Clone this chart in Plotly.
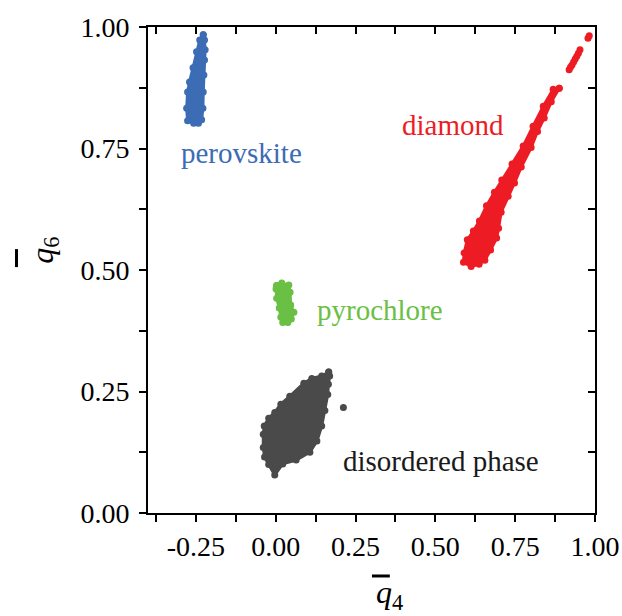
import plotly.graph_objects as go

# ---- data (cluster outlines; q4 = x, q6 = y) ----
perovskite_q4 = [-0.227, -0.223, -0.221, -0.223, -0.225, -0.227, -0.228, -0.232, -0.242,
                 -0.257, -0.276, -0.279, -0.276, -0.270, -0.259, -0.248, -0.238]
perovskite_q6 = [0.984, 0.973, 0.953, 0.932, 0.901, 0.866, 0.833, 0.809, 0.802,
                 0.802, 0.807, 0.833, 0.866, 0.887, 0.916, 0.949, 0.973]

pyrochlore_q4 = [0.003, 0.019, 0.041, 0.045, 0.047, 0.057, 0.049, 0.038, 0.022,
                 0.016, 0.011, 0.003, 0.001]
pyrochlore_q6 = [0.468, 0.473, 0.469, 0.454, 0.428, 0.413, 0.399, 0.392, 0.392,
                 0.403, 0.422, 0.442, 0.461]

disordered_q4 = [0.166, 0.144, 0.113, 0.088, 0.044, 0.016, -0.003, -0.022, -0.036,
                 -0.039, -0.039, -0.035, -0.022, -0.003, 0.022, 0.064, 0.107, 0.129,
                 0.144, 0.154, 0.163, 0.165, 0.169]
disordered_q6 = [0.290, 0.282, 0.277, 0.267, 0.240, 0.224, 0.207, 0.195, 0.179,
                 0.162, 0.135, 0.115, 0.100, 0.078, 0.101, 0.109, 0.125, 0.148,
                 0.179, 0.211, 0.244, 0.265, 0.282]
disordered_out_q4 = [0.212]
disordered_out_q6 = [0.217]

diamond_q4 = [0.888, 0.863, 0.841, 0.820, 0.800, 0.769, 0.748, 0.728, 0.706, 0.698,
              0.692, 0.673, 0.655, 0.637, 0.612, 0.588, 0.590, 0.600, 0.619, 0.638,
              0.660, 0.685, 0.708, 0.740, 0.775, 0.806, 0.838, 0.869]
diamond_q6 = [0.874, 0.846, 0.813, 0.785, 0.752, 0.712, 0.679, 0.652, 0.619, 0.586,
              0.566, 0.541, 0.520, 0.512, 0.507, 0.516, 0.535, 0.562, 0.580, 0.601,
              0.632, 0.660, 0.685, 0.718, 0.755, 0.796, 0.837, 0.872]
diamond_top_q4 = [0.982, 0.978, 0.953, 0.948, 0.943, 0.938, 0.933, 0.928, 0.923, 0.919]
diamond_top_q6 = [0.982, 0.977, 0.953, 0.946, 0.940, 0.934, 0.928, 0.922, 0.917, 0.912]

x_tickvals = [-0.375, -0.25, -0.125, 0.0, 0.125, 0.25, 0.375, 0.5, 0.625, 0.75, 0.875, 1.0]
x_ticktext = ["", "-0.25", "", "0.00", "", "0.25", "", "0.50", "", "0.75", "", "1.00"]
y_tickvals = [0.0, 0.125, 0.25, 0.375, 0.5, 0.625, 0.75, 0.875, 1.0]
y_ticktext = ["0.00", "", "0.25", "", "0.50", "", "0.75", "", "1.00"]

labels = ["perovskite", "diamond", "pyrochlore", "disordered phase"]
label_q4 = [-0.107, 0.555, 0.326, 0.519]
label_q6 = [0.741, 0.798, 0.417, 0.108]

BLUE = "#3b6cb4"
RED = "#ed1c24"
GREEN = "#6abf45"
GRAY = "#4a4a4a"
label_colors = [BLUE, RED, GREEN, "#1a1a1a"]

MS = 7
FONT = "Liberation Serif, Times New Roman, Tinos, serif"

fig = go.Figure()


def blob(xs, ys, color):
    fig.add_trace(go.Scatter(
        x=xs + xs[:1], y=ys + ys[:1], mode="lines+markers", fill="toself",
        fillcolor=color, line=dict(color=color, width=3),
        marker=dict(color=color, size=MS), hoverinfo="skip", showlegend=False))


def dots(xs, ys, color):
    fig.add_trace(go.Scatter(
        x=xs, y=ys, mode="markers", marker=dict(color=color, size=MS),
        hoverinfo="skip", showlegend=False))


blob(perovskite_q4, perovskite_q6, BLUE)
blob(pyrochlore_q4, pyrochlore_q6, GREEN)
blob(disordered_q4, disordered_q6, GRAY)
dots(disordered_out_q4, disordered_out_q6, GRAY)
blob(diamond_q4, diamond_q6, RED)
dots(diamond_top_q4, diamond_top_q6, RED)

# invisible trace so the mirrored (top/right) axes are drawn
fig.add_trace(go.Scatter(x=[None], y=[None], xaxis="x2", yaxis="y2",
                         mode="markers", showlegend=False, hoverinfo="skip"))

for t, xq, yq, c in zip(labels, label_q4, label_q6, label_colors):
    fig.add_annotation(x=xq, y=yq, text=t, showarrow=False,
                       font=dict(family=FONT, size=29, color=c),
                       xanchor="center", yanchor="middle")

# axis titles
fig.add_annotation(xref="paper", yref="paper", x=0.54, y=-0.168,
                   text="<i>q</i><sub>4</sub>", showarrow=False,
                   font=dict(family=FONT, size=32, color="black"),
                   xanchor="center", yanchor="middle")
fig.add_annotation(xref="paper", yref="paper", x=-0.232, y=0.54,
                   text="<i>q</i><sub>6</sub>", showarrow=False, textangle=-90,
                   font=dict(family=FONT, size=32, color="black"),
                   xanchor="center", yanchor="middle")
fig.add_shape(type="line", xref="paper", yref="paper",
              x0=0.501, x1=0.541, y0=-0.1296, y1=-0.1296,
              line=dict(color="black", width=3))
fig.add_shape(type="line", xref="paper", yref="paper",
              x0=-0.2942, x1=-0.2942, y0=0.506, y1=0.543,
              line=dict(color="black", width=3))

axis_common = dict(showgrid=False, zeroline=False, showline=True, linecolor="black",
                   linewidth=2, tickcolor="black", tickwidth=2, ticklen=7,
                   tickmode="array", automargin=False)

fig.update_layout(
    width=622, height=616,
    margin=dict(l=148, r=27, t=27, b=103, autoexpand=False),
    paper_bgcolor="white", plot_bgcolor="white",
    showlegend=False,
    font=dict(family=FONT),
    xaxis=dict(range=[-0.4, 1.0], tickvals=x_tickvals, ticktext=x_ticktext,
               ticks="outside", tickfont=dict(family=FONT, size=28, color="black"),
               **axis_common),
    yaxis=dict(range=[0.0, 1.0], tickvals=y_tickvals, ticktext=y_ticktext,
               ticks="outside", tickfont=dict(family=FONT, size=28, color="black"),
               ticklabelstandoff=4, **axis_common),
    xaxis2=dict(range=[-0.4, 1.0], tickvals=x_tickvals, ticks="inside",
                showticklabels=False, overlaying="x", side="top", anchor="y2",
                **axis_common),
    yaxis2=dict(range=[0.0, 1.0], tickvals=y_tickvals, ticks="inside",
                showticklabels=False, overlaying="y", side="right", anchor="x2",
                **axis_common),
)

fig.write_html("out.html")
